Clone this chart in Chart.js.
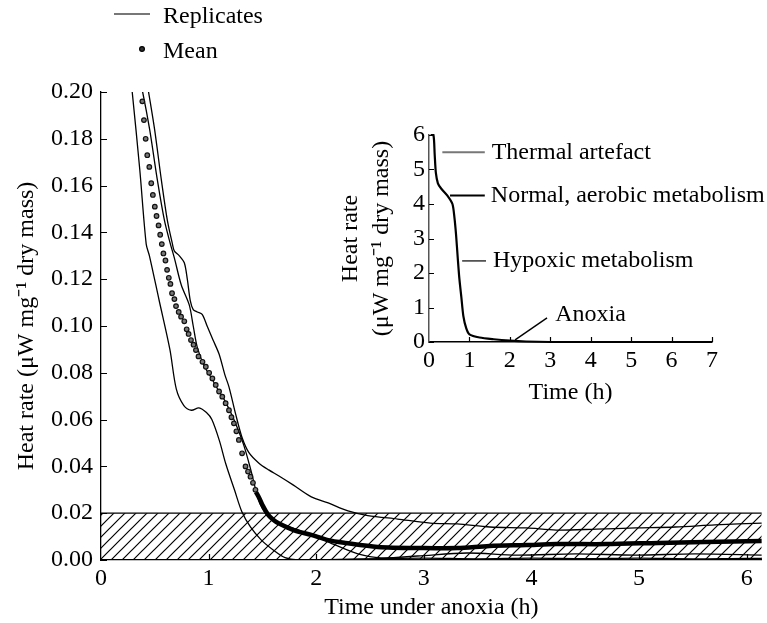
<!DOCTYPE html>
<html>
<head>
<meta charset="utf-8">
<script src="https://cdn.jsdelivr.net/npm/chart.js@4"></script>
<style>
  body { margin: 0; background: #fff; }
  #wrap { position: relative; width: 767px; height: 623px; }
  #main { position: absolute; left: 0; top: 0; }
  #inset { position: absolute; left: 330px; top: 110px; pointer-events: none; }
</style>
</head>
<body>
<div id="wrap">
  <canvas id="main" width="767" height="623"></canvas>
  <canvas id="inset" width="437" height="300"></canvas>
</div>
<script>
// ---- main panel data (time under anoxia in h, heat rate in uW/mg) ----
const xTicks = [0, 1, 2, 3, 4, 5, 6];
const yTicks = [0, 0.02, 0.04, 0.06, 0.08, 0.10, 0.12, 0.14, 0.16, 0.18, 0.20];
const xMax = 6.14;
const anoxiaLimit = 0.02;

const repATime = [0.26, 0.29, 0.36, 0.42, 0.45, 0.54, 0.64, 0.70, 0.77, 0.84, 0.91, 0.98, 1.03, 1.10, 1.16, 1.24, 1.31, 1.39, 1.49, 1.60, 1.71, 1.83, 2.2, 2.6, 3.0, 3.5, 4.0, 4.5, 5.0, 5.5, 6.0, 6.2];
const repAHeat = [0.212, 0.200, 0.167, 0.135, 0.130, 0.111, 0.090, 0.073, 0.066, 0.064, 0.065, 0.063, 0.060, 0.051, 0.041, 0.030, 0.0205, 0.014, 0.0085, 0.0043, 0.001, 0.0, 0.0003, 0.0006, 0.0008, 0.0005, 0.0008, 0.0006, 0.0008, 0.0005, 0.0007, 0.0006];

const repBTime = [0.424, 0.442, 0.498, 0.562, 0.617, 0.664, 0.682, 0.728, 0.774, 0.802, 0.829, 0.857, 0.894, 0.940, 0.986, 1.041, 1.097, 1.152, 1.189, 1.253, 1.309, 1.373, 1.465, 1.558, 1.650, 1.788, 1.954, 2.111, 2.295, 2.479, 2.756, 3.06, 3.309, 3.613, 3.954, 4.23, 4.6, 4.968, 5.336, 5.705, 6.14];
const repBHeat = [0.205, 0.200, 0.184, 0.162, 0.145, 0.135, 0.132, 0.130, 0.127, 0.120, 0.111, 0.107, 0.106, 0.105, 0.100, 0.094, 0.088, 0.079, 0.074, 0.062, 0.0526, 0.046, 0.0415, 0.0385, 0.036, 0.032, 0.027, 0.0244, 0.021, 0.019, 0.0175, 0.0158, 0.0154, 0.0141, 0.0137, 0.0128, 0.0132, 0.0137, 0.0141, 0.015, 0.0158];

const repCTime = [0.359, 0.387, 0.452, 0.525, 0.590, 0.645, 0.682, 0.746, 0.820, 0.857, 0.894, 0.958, 1.023, 1.078, 1.152, 1.235, 1.327, 1.392, 1.465, 1.53, 1.65, 1.834, 1.99, 2.157, 2.387, 2.60, 2.94, 3.40, 3.862, 4.415, 4.968, 5.52, 6.14];
const repCHeat = [0.205, 0.200, 0.184, 0.162, 0.145, 0.135, 0.129, 0.1175, 0.109, 0.100, 0.091, 0.083, 0.078, 0.0735, 0.068, 0.060, 0.049, 0.0385, 0.0256, 0.020, 0.016, 0.0128, 0.0103, 0.0068, 0.0026, 0.0009, 0.0017, 0.003, 0.0021, 0.0026, 0.0021, 0.0026, 0.0021];

const meanDotTime = [0.384, 0.399, 0.415, 0.430, 0.449, 0.467, 0.482, 0.500, 0.516, 0.535, 0.550, 0.565, 0.580, 0.599, 0.614, 0.630, 0.645, 0.660, 0.682, 0.697, 0.722, 0.744, 0.774, 0.796, 0.814, 0.836, 0.860, 0.882, 0.906, 0.943, 0.974, 1.005, 1.035, 1.066, 1.097, 1.127, 1.158, 1.189, 1.212, 1.235, 1.258, 1.281, 1.311, 1.343, 1.366, 1.389, 1.412, 1.435];
const meanDotHeat = [0.196, 0.188, 0.180, 0.173, 0.168, 0.161, 0.156, 0.151, 0.147, 0.143, 0.139, 0.135, 0.131, 0.128, 0.124, 0.1206, 0.118, 0.114, 0.1115, 0.1085, 0.106, 0.104, 0.102, 0.0986, 0.0966, 0.094, 0.092, 0.0897, 0.087, 0.0847, 0.0826, 0.080, 0.0776, 0.0748, 0.072, 0.0698, 0.067, 0.064, 0.061, 0.0584, 0.055, 0.0513, 0.0456, 0.040, 0.0378, 0.0356, 0.033, 0.030];

const meanTailTime = [1.44, 1.47, 1.50, 1.55, 1.60, 1.65, 1.79, 1.954, 2.11, 2.27, 2.57, 3.0, 3.31, 3.61, 3.95, 4.23, 4.69, 5.18, 5.61, 6.14];
const meanTailHeat = [0.029, 0.0265, 0.0235, 0.0195, 0.0172, 0.0157, 0.0128, 0.0107, 0.0085, 0.0073, 0.0056, 0.0051, 0.0051, 0.006, 0.0064, 0.0068, 0.0068, 0.0073, 0.0077, 0.0081];

// ---- inset data (time in h, heat rate) ----
const insetXTicks = [0, 1, 2, 3, 4, 5, 6, 7];
const insetYTicks = [0, 1, 2, 3, 4, 5, 6];
const insetTime = [0.04, 0.11, 0.14, 0.17, 0.22, 0.3, 0.45, 0.58, 0.63, 0.67, 0.71, 0.75, 0.8, 0.85, 0.92, 1.0, 1.25, 1.6, 2.0, 2.4, 3.0, 4, 5, 6, 7];
const insetHeat = [6.0, 6.0, 5.45, 4.9, 4.6, 4.45, 4.25, 4.0, 3.6, 3.1, 2.45, 1.85, 1.3, 0.75, 0.4, 0.22, 0.13, 0.08, 0.04, 0.015, 0, 0, 0, 0, 0];

const FONT = '"Liberation Serif", "Times New Roman", serif';
const pts = (ts, vs) => ts.map((t, i) => ({x: t, y: vs[i]}));

function hatch() {
    const c = document.createElement('canvas');
    c.width = 11; c.height = 11;
    const g = c.getContext('2d');
    g.strokeStyle = '#000';
    g.lineWidth = 1.2;
    g.beginPath();
    g.moveTo(0, 11); g.lineTo(11, 0);
    g.moveTo(-2, 2); g.lineTo(2, -2);
    g.moveTo(9, 13); g.lineTo(13, 9);
    g.stroke();
    return g.createPattern(c, 'repeat');
}

// ticks that point into the plot
const innerTicks = {
    id: 'innerTicks',
    afterDraw(chart, args, opts) {
        const ctx = chart.ctx;
        const {x, y} = chart.scales;
        ctx.save();
        ctx.strokeStyle = '#000';
        ctx.lineWidth = 1.2;
        ctx.beginPath();
        y.ticks.forEach(t => {
            const py = Math.round(y.getPixelForValue(t.value)) + 0.5;
            ctx.moveTo(x.left, py); ctx.lineTo(x.left + opts.len, py);
        });
        x.ticks.forEach(t => {
            if (t.value === 0) return;
            const px = Math.round(x.getPixelForValue(t.value)) + 0.5;
            ctx.moveTo(px, y.bottom); ctx.lineTo(px, y.bottom - opts.len);
        });
        ctx.stroke();
        ctx.restore();
    }
};

const keyBox = {
    id: 'keyBox',
    afterDraw(chart) {
        const ctx = chart.ctx;
        ctx.save();
        ctx.strokeStyle = '#777';
        ctx.lineWidth = 2;
        ctx.beginPath(); ctx.moveTo(114, 14); ctx.lineTo(150, 14); ctx.stroke();
        ctx.fillStyle = '#333';
        ctx.strokeStyle = '#000';
        ctx.lineWidth = 1.2;
        ctx.beginPath(); ctx.arc(142, 49, 2.4, 0, Math.PI * 2); ctx.fill(); ctx.stroke();
        ctx.fillStyle = '#000';
        ctx.font = '24px ' + FONT;
        ctx.textBaseline = 'alphabetic';
        ctx.fillText('Replicates', 163, 23);
        ctx.fillText('Mean', 163, 58);
        ctx.restore();
    }
};

const lineStyle = {borderColor: '#000', borderWidth: 1.3, pointRadius: 0, fill: false, tension: 0.3, order: 1};

new Chart(document.getElementById('main'), {
    type: 'scatter',
    data: {
        datasets: [
            {data: pts([0, xMax], [anoxiaLimit, anoxiaLimit]), showLine: true, borderColor: '#000', borderWidth: 1.2,
             pointRadius: 0, fill: 'origin', backgroundColor: hatch(), order: 10},
            Object.assign({data: pts(repATime, repAHeat), showLine: true}, lineStyle),
            Object.assign({data: pts(repBTime, repBHeat), showLine: true}, lineStyle),
            Object.assign({data: pts(repCTime, repCHeat), showLine: true}, lineStyle),
            {data: pts(meanDotTime, meanDotHeat), showLine: false, pointRadius: 2.3, pointBackgroundColor: '#777',
             pointBorderColor: '#111', pointBorderWidth: 1.2, order: 0},
            {data: pts(meanTailTime, meanTailHeat), showLine: true, borderColor: '#000', borderWidth: 4.5,
             pointRadius: 0, tension: 0.3, order: 0}
        ]
    },
    options: {
        responsive: false,
        animation: false,
        devicePixelRatio: 1,
        layout: {padding: {top: 92, right: 0, left: 0, bottom: 0}},
        scales: {
            x: {
                type: 'linear', min: 0, max: xMax,
                grid: {display: false, drawTicks: false},
                border: {display: true, color: '#000', width: 1.3},
                afterBuildTicks: s => { s.ticks = xTicks.map(v => ({value: v})); },
                afterFit: s => { s.height = 63; },
                ticks: {color: '#000', padding: 4, font: {family: FONT, size: 24}, maxRotation: 0},
                title: {display: true, text: 'Time under anoxia (h)', color: '#000',
                        font: {family: FONT, size: 24, lineHeight: 1.2}, padding: {top: 0, bottom: 1}}
            },
            y: {
                min: 0, max: 0.2,
                grid: {display: false, drawTicks: false},
                border: {display: true, color: '#000', width: 1.3},
                afterBuildTicks: s => { s.ticks = yTicks.map(v => ({value: v})); },
                afterFit: s => { s.width = 101; },
                ticks: {color: '#000', padding: 8, font: {family: FONT, size: 24},
                        callback: v => v.toFixed(2)},
                title: {display: true, text: 'Heat rate (\u03bcW mg\u207b\u00b9 dry mass)', color: '#000',
                        font: {family: FONT, size: 24, lineHeight: 1.2}, padding: {top: 12, bottom: 0}}
            }
        },
        plugins: {
            legend: {display: false},
            tooltip: {enabled: false},
            innerTicks: {len: 6}
        }
    },
    plugins: [innerTicks, keyBox]
});

// labelled pointers on the inset curve
const insetNotes = {
    id: 'insetNotes',
    afterDraw(chart) {
        const ctx = chart.ctx;
        const {x, y} = chart.scales;
        const notes = [
            {text: 'Thermal artefact', from: [0.33, 5.5], to: [1.38, 5.5], at: [1.55, 5.5], color: '#777', w: 2},
            {text: 'Normal, aerobic metabolism', from: [0.52, 4.25], to: [1.38, 4.25], at: [1.53, 4.25], color: '#000', w: 2},
            {text: 'Hypoxic metabolism', from: [0.82, 2.35], to: [1.41, 2.35], at: [1.58, 2.35], color: '#000', w: 1.2},
            {text: 'Anoxia', from: [2.13, 0.06], to: [2.92, 0.7], at: [3.12, 0.8], color: '#000', w: 1.4}
        ];
        ctx.save();
        ctx.font = '24px ' + FONT;
        ctx.textBaseline = 'middle';
        notes.forEach(n => {
            ctx.strokeStyle = n.color;
            ctx.lineWidth = n.w;
            ctx.beginPath();
            ctx.moveTo(x.getPixelForValue(n.from[0]), y.getPixelForValue(n.from[1]));
            ctx.lineTo(x.getPixelForValue(n.to[0]), y.getPixelForValue(n.to[1]));
            ctx.stroke();
            ctx.fillStyle = '#000';
            ctx.fillText(n.text, x.getPixelForValue(n.at[0]), y.getPixelForValue(n.at[1]));
        });
        ctx.restore();
    }
};

new Chart(document.getElementById('inset'), {
    type: 'scatter',
    data: {
        datasets: [
            {data: pts(insetTime, insetHeat), showLine: true, borderColor: '#000', borderWidth: 2.2,
             pointRadius: 0, tension: 0.25, clip: 4}
        ]
    },
    options: {
        responsive: false,
        animation: false,
        devicePixelRatio: 1,
        layout: {padding: {top: 25, right: 55, left: 0, bottom: 0}},
        scales: {
            x: {
                type: 'linear', min: 0, max: 7,
                grid: {display: false, drawTicks: false},
                border: {display: true, color: '#000', width: 1.5},
                afterBuildTicks: s => { s.ticks = insetXTicks.map(v => ({value: v})); },
                afterFit: s => { s.height = 68; },
                ticks: {color: '#000', padding: 4, font: {family: FONT, size: 24}, maxRotation: 0},
                title: {display: true, text: 'Time (h)', color: '#000',
                        font: {family: FONT, size: 24, lineHeight: 1.2}, padding: {top: 0, bottom: 3}}
            },
            y: {
                min: 0, max: 6,
                grid: {display: false, drawTicks: false},
                border: {display: true, color: '#555', width: 1.5},
                afterBuildTicks: s => { s.ticks = insetYTicks.map(v => ({value: v})); },
                afterFit: s => { s.width = 99; },
                ticks: {color: '#000', padding: 4, font: {family: FONT, size: 24}},
                title: {display: true, text: ['Heat rate', '(\u03bcW mg\u207b\u00b9 dry mass)'], color: '#000',
                        font: {family: FONT, size: 24, lineHeight: 1.3}, padding: {top: 5, bottom: 0}}
            }
        },
        plugins: {
            legend: {display: false},
            tooltip: {enabled: false},
            innerTicks: {len: 5}
        }
    },
    plugins: [innerTicks, insetNotes]
});
</script>
</body>
</html>
